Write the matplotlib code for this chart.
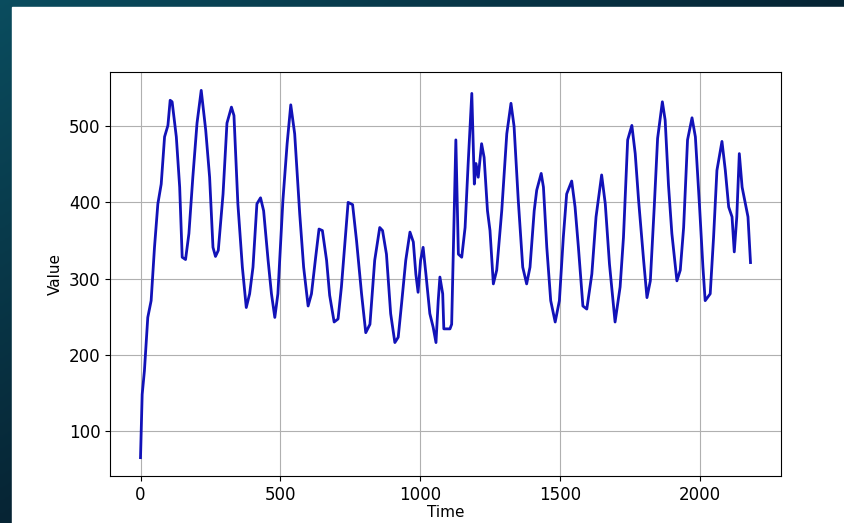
import numpy as np
import matplotlib.pyplot as plt
from matplotlib.patches import Rectangle

# points (time, value)
time = [0, 6, 14, 26, 38, 50, 62, 74, 86, 98, 106, 113, 128, 140, 149, 161, 173, 187,
        202, 217, 233, 247, 259, 268, 278, 295, 309, 325, 334, 348, 364, 378, 390, 402,
        416, 429, 440, 456, 468, 480, 491, 509, 524, 537, 551, 569, 583, 599, 611, 626,
        638, 650, 665, 676, 692, 706, 718, 732, 742, 758, 772, 790, 805, 820, 837, 855,
        865, 879, 894, 909, 921, 933, 948, 963, 975, 984, 992, 1001, 1010, 1020, 1034,
        1046, 1056, 1064, 1070, 1080, 1084, 1106, 1112, 1127, 1136, 1148, 1160, 1171,
        1184, 1193, 1199, 1207, 1219, 1228, 1240, 1249, 1261, 1273, 1291, 1309, 1324,
        1335, 1350, 1366, 1380, 1392, 1407, 1416, 1432, 1440, 1452, 1466, 1482, 1497,
        1511, 1523, 1541, 1553, 1565, 1581, 1595, 1613, 1628, 1648, 1661, 1676, 1696,
        1714, 1726, 1741, 1756, 1768, 1780, 1798, 1810, 1822, 1836, 1848, 1865, 1875,
        1887, 1899, 1917, 1929, 1941, 1955, 1971, 1983, 1998, 2010, 2018, 2036, 2048,
        2060, 2078, 2090, 2102, 2114, 2122, 2131, 2140, 2150, 2162, 2171, 2180]
value = [65, 148, 179, 249, 271, 341, 398, 424, 486, 501, 534, 532, 486, 420, 328, 325,
         359, 433, 504, 547, 495, 433, 341, 329, 337, 411, 504, 525, 514, 398, 315, 262,
         280, 315, 398, 406, 389, 324, 280, 249, 280, 403, 477, 528, 490, 385, 315, 264,
         280, 328, 365, 363, 324, 278, 243, 247, 289, 354, 400, 397, 350, 280, 229, 240,
         324, 367, 363, 332, 254, 216, 223, 267, 324, 361, 348, 306, 282, 324, 341, 306,
         254, 236, 216, 271, 302, 280, 234, 234, 240, 482, 332, 328, 367, 451, 543, 424,
         451, 433, 477, 459, 389, 363, 293, 311, 389, 490, 530, 500, 403, 315, 293, 315,
         389, 416, 438, 420, 341, 271, 243, 271, 354, 411, 428, 394, 341, 264, 260, 306,
         381, 436, 398, 319, 243, 289, 354, 482, 501, 464, 403, 324, 275, 297, 394, 484,
         532, 508, 422, 359, 297, 311, 367, 482, 511, 486, 394, 315, 271, 280, 354, 442,
         480, 442, 394, 381, 335, 381, 464, 420, 398, 381, 321]

W, H = 844, 523
fig = plt.figure(figsize=(W / 100, H / 100), dpi=100)

# dark gradient frame around the white figure panel
bg = fig.add_axes([0, 0, 1, 1])
bg.set_zorder(-1)
bg.axis('off')
gx, gy = np.meshgrid(np.linspace(0, 1, 200), np.linspace(0, 1, 200))
t = np.clip(0.75 * gx + 0.75 * gy, 0, 1)[..., None]
teal = np.array([0.04, 0.30, 0.37])
dark = np.array([0.02, 0.09, 0.15])
bg.imshow(teal * (1 - t) + dark * t, extent=[0, 1, 0, 1], aspect='auto')
bg.add_patch(Rectangle((12 / W, 0), 1, 1 - 7 / H, color='white'))
bg.set_xlim(0, 1)
bg.set_ylim(0, 1)

ax = fig.add_axes([110 / W, 1 - 476 / H, (781 - 110) / W, (476 - 72) / H])
ax.plot(time, value, color='#1212b8', linewidth=2)
ax.set_xlabel('Time', fontsize=11, labelpad=1)
ax.set_ylabel('Value', fontsize=11)
ax.tick_params(labelsize=12)
ax.grid(True)

fig.savefig('out.png', dpi=100)
